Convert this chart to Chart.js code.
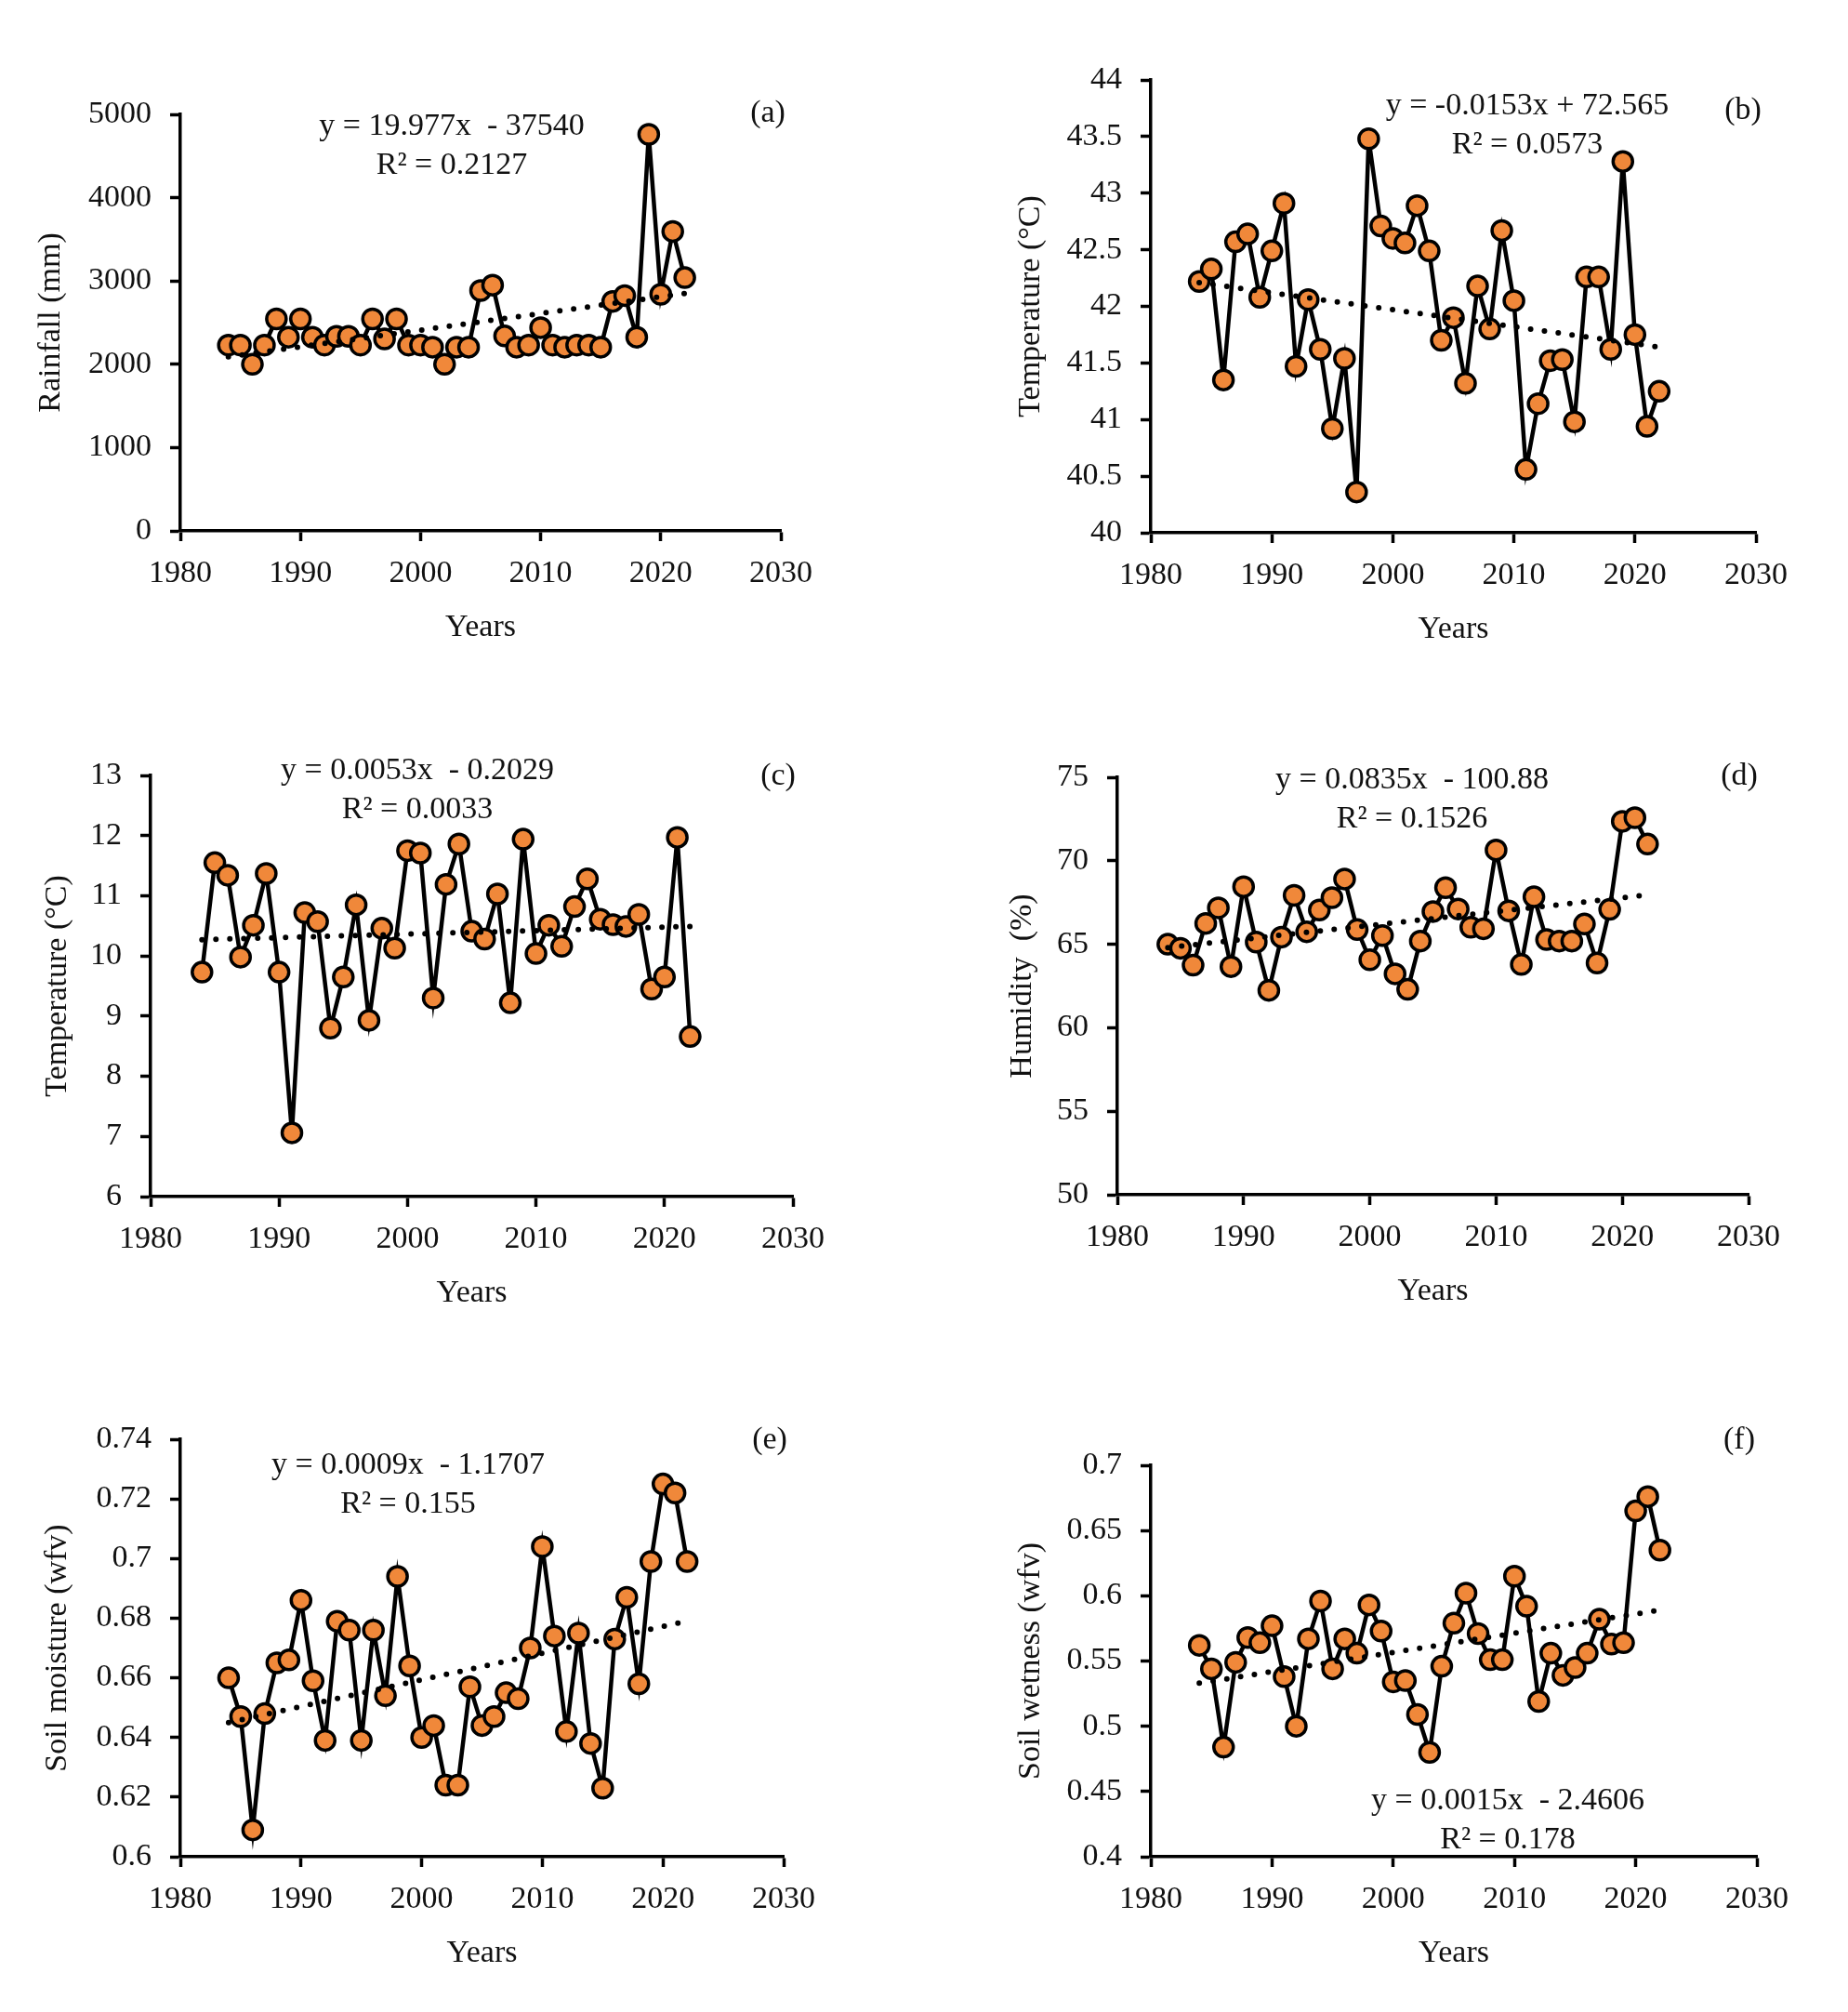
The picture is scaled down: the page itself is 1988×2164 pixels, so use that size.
<!DOCTYPE html>
<html>
<head>
<meta charset="utf-8">
<script src="https://cdn.jsdelivr.net/npm/chart.js@4.4.1/dist/chart.umd.min.js"></script>
<style>
  html, body { margin: 0; padding: 0; background: #ffffff; }
  body { width: 1988px; height: 2164px; position: relative; overflow: hidden; }
  canvas { position: absolute; }
</style>
</head>
<body>
<canvas id="chartA"></canvas>
<canvas id="chartB"></canvas>
<canvas id="chartC"></canvas>
<canvas id="chartD"></canvas>
<canvas id="chartE"></canvas>
<canvas id="chartF"></canvas>
<script>
// ---- data ----
const years = [1984, 1985, 1986, 1987, 1988, 1989, 1990, 1991, 1992, 1993,
               1994, 1995, 1996, 1997, 1998, 1999, 2000, 2001, 2002, 2003,
               2004, 2005, 2006, 2007, 2008, 2009, 2010, 2011, 2012, 2013,
               2014, 2015, 2016, 2017, 2018, 2019, 2020, 2021, 2022];

const rainfall = [2230, 2230, 2000, 2230, 2545, 2325, 2545, 2325, 2230, 2335,
                  2335, 2230, 2545, 2305, 2545, 2230, 2230, 2205, 2000, 2205,
                  2205, 2885, 2950, 2340, 2205, 2230, 2440, 2230, 2205, 2230,
                  2230, 2205, 2755, 2825, 2325, 4760, 2840, 3595, 3040];

const maxTemp = [42.22, 42.33, 41.35, 42.57, 42.64, 42.08, 42.49, 42.91, 41.47, 42.06,
                 41.62, 40.92, 41.54, 40.36, 43.48, 42.71, 42.60, 42.56, 42.89, 42.49,
                 41.70, 41.90, 41.32, 42.18, 41.80, 42.67, 42.05, 40.56, 41.14, 41.52,
                 41.53, 40.98, 42.26, 42.26, 41.62, 43.28, 41.75, 40.94, 41.25];

const minTemp = [9.73, 11.55, 11.34, 9.98, 10.51, 11.37, 9.73, 7.06, 10.72, 10.57,
                 8.80, 9.65, 10.85, 8.93, 10.46, 10.13, 11.75, 11.71, 9.30, 11.19,
                 11.86, 10.41, 10.28, 11.03, 9.22, 11.94, 10.04, 10.51, 10.16, 10.82,
                 11.28, 10.61, 10.52, 10.49, 10.69, 9.45, 9.65, 11.97, 8.66];

const humidity = [65.0, 64.76, 63.75, 66.25, 67.18, 63.66, 68.45, 65.13, 62.24, 65.43,
                  67.93, 65.75, 67.05, 67.79, 68.91, 65.88, 64.07, 65.52, 63.23, 62.30,
                  65.19, 66.96, 68.39, 67.11, 66.02, 65.93, 70.65, 67.0, 63.79, 67.84,
                  65.28, 65.19, 65.19, 66.21, 63.88, 67.09, 72.36, 72.58, 71.0];

const soilMoisture = [0.660, 0.647, 0.609, 0.648, 0.665, 0.666, 0.686, 0.659, 0.639, 0.679,
                      0.676, 0.639, 0.676, 0.654, 0.694, 0.664, 0.640, 0.644, 0.624, 0.624,
                      0.657, 0.644, 0.647, 0.655, 0.653, 0.670, 0.704, 0.674, 0.642, 0.675,
                      0.638, 0.623, 0.673, 0.687, 0.658, 0.699, 0.725, 0.722, 0.699];

const soilWetness = [0.562, 0.544, 0.484, 0.549, 0.568, 0.564, 0.577, 0.538, 0.500, 0.567,
                     0.596, 0.544, 0.567, 0.556, 0.593, 0.573, 0.534, 0.535, 0.509, 0.480,
                     0.546, 0.579, 0.602, 0.571, 0.551, 0.551, 0.615, 0.592, 0.519, 0.556,
                     0.539, 0.545, 0.556, 0.582, 0.563, 0.564, 0.665, 0.676, 0.635];

// linear trend lines, start/end values as drawn
const trendYears = [1984, 2022];
const rainfallTrend = [2090, 2850];
const maxTempTrend = [42.21, 41.64];
const minTempTrend = [10.27, 10.49];
const humidityTrend = [64.8, 67.95];
const soilMoistureTrend = [0.645, 0.679];
const soilWetnessTrend = [0.533, 0.589];

const xTicks = [1980, 1990, 2000, 2010, 2020, 2030];

// ---- look ----
const FONT = "'Liberation Serif', 'Times New Roman', serif";
const FS = 34;
const TXT = '#111111';
const ORANGE = '#F0883A';
const Y_W = 200, X_H = 160, PAD_T = 100, PAD_R = 110;

// plot boxes on the page + where the texts sit
const panels = [
  { id: 'chartA', box: [194, 123, 840, 571], values: rainfall, trend: rainfallTrend,
    yMin: 0, yMax: 5000, yStep: 1000, yTitle: 'Rainfall (mm)', yTitleX: 55,
    eq: ['y = 19.977x  - 37540', 'R\u00b2 = 0.2127'], eqAt: [486, 136], tag: '(a)', tagAt: [826, 122] },
  { id: 'chartB', box: [1238, 86, 1889, 573], values: maxTemp, trend: maxTempTrend,
    yMin: 40, yMax: 44, yStep: 0.5, yTitle: 'Temperature (\u00b0C)', yTitleX: 1109,
    eq: ['y = -0.0153x + 72.565', 'R\u00b2 = 0.0573'], eqAt: [1643, 114], tag: '(b)', tagAt: [1875, 119] },
  { id: 'chartC', box: [162, 834, 853, 1287], values: minTemp, trend: minTempTrend,
    yMin: 6, yMax: 13, yStep: 1, yTitle: 'Temperature (\u00b0C)', yTitleX: 62,
    eq: ['y = 0.0053x  - 0.2029', 'R\u00b2 = 0.0033'], eqAt: [449, 829], tag: '(c)', tagAt: [837, 835] },
  { id: 'chartD', box: [1202, 836, 1881, 1285], values: humidity, trend: humidityTrend,
    yMin: 50, yMax: 75, yStep: 5, yTitle: 'Humidity  (%)', yTitleX: 1100,
    eq: ['y = 0.0835x  - 100.88', 'R\u00b2 = 0.1526'], eqAt: [1519, 839], tag: '(d)', tagAt: [1871, 835] },
  { id: 'chartE', box: [194, 1548, 843, 1997], values: soilMoisture, trend: soilMoistureTrend,
    yMin: 0.6, yMax: 0.74, yStep: 0.02, yTitle: 'Soil moisture (wfv)', yTitleX: 62,
    eq: ['y = 0.0009x  - 1.1707', 'R\u00b2 = 0.155'], eqAt: [439, 1576], tag: '(e)', tagAt: [828, 1549] },
  { id: 'chartF', box: [1238, 1576, 1890, 1997], values: soilWetness, trend: soilWetnessTrend,
    yMin: 0.4, yMax: 0.7, yStep: 0.05, yTitle: 'Soil wetness (wfv)', yTitleX: 1109,
    eq: ['y = 0.0015x  - 2.4606', 'R\u00b2 = 0.178'], eqAt: [1622, 1937], tag: '(f)', tagAt: [1871, 1549] }
];

// equation, R² and panel letter
const panelText = {
  id: 'panelText',
  afterDraw(chart, args, opts) {
    const ctx = chart.ctx;
    ctx.save();
    ctx.fillStyle = TXT;
    ctx.font = FS + 'px ' + FONT;
    ctx.textAlign = 'center';
    ctx.textBaseline = 'middle';
    ctx.fillText(opts.eq[0], opts.eqAt[0] - opts.left, opts.eqAt[1] - opts.top);
    ctx.fillText(opts.eq[1], opts.eqAt[0] - opts.left, opts.eqAt[1] + 42 - opts.top);
    ctx.fillText(opts.tag, opts.tagAt[0] - opts.left, opts.tagAt[1] - opts.top);
    ctx.restore();
  }
};

function makePanel(p) {
  const [l, t, r, b] = p.box;
  const left = l - Y_W, top = t - PAD_T;
  const w = (r - l) + Y_W + PAD_R, h = (b - t) + PAD_T + X_H;
  const canvas = document.getElementById(p.id);
  canvas.width = w;
  canvas.height = h;
  canvas.style.left = left + 'px';
  canvas.style.top = top + 'px';
  canvas.style.width = w + 'px';
  canvas.style.height = h + 'px';

  const axisGrid = {
    drawOnChartArea: false,
    drawTicks: true,
    tickLength: 11,
    tickWidth: 3.5,
    tickColor: '#000'
  };

  new Chart(canvas.getContext('2d'), {
    type: 'line',
    data: {
      datasets: [
        {
          data: trendYears.map((yr, i) => ({ x: yr, y: p.trend[i] })),
          borderColor: '#000',
          borderWidth: 6,
          borderDash: [0, 15],
          borderCapStyle: 'round',
          pointRadius: 0,
          fill: false,
          order: 0
        },
        {
          data: years.map((yr, i) => ({ x: yr, y: p.values[i] })),
          borderColor: '#000',
          borderWidth: 4.5,
          pointRadius: 10.5,
          pointBackgroundColor: ORANGE,
          pointBorderColor: '#000',
          pointBorderWidth: 3.5,
          tension: 0,
          fill: false,
          order: 1
        }
      ]
    },
    options: {
      responsive: false,
      animation: false,
      devicePixelRatio: 1,
      layout: { padding: { top: PAD_T, right: PAD_R, left: 0, bottom: 0 } },
      plugins: {
        legend: { display: false },
        tooltip: { enabled: false },
        panelText: { eq: p.eq, eqAt: p.eqAt, tag: p.tag, tagAt: p.tagAt, left: left, top: top }
      },
      scales: {
        x: {
          type: 'linear',
          min: 1980,
          max: 2030,
          afterBuildTicks: (scale) => { scale.ticks = xTicks.map(v => ({ value: v })); },
          afterFit: (scale) => { scale.height = X_H; },
          border: { display: true, color: '#000', width: 3.5 },
          grid: axisGrid,
          ticks: {
            color: TXT,
            padding: 15,
            maxRotation: 0,
            font: { family: FONT, size: FS },
            callback: (v) => String(v)
          },
          title: {
            display: true,
            text: 'Years',
            color: TXT,
            font: { family: FONT, size: FS },
            padding: { top: 0, bottom: 36 }
          }
        },
        y: {
          min: p.yMin,
          max: p.yMax,
          afterFit: (scale) => { scale.width = Y_W; },
          border: { display: true, color: '#000', width: 3.5 },
          grid: axisGrid,
          ticks: {
            stepSize: p.yStep,
            color: TXT,
            padding: 20,
            font: { family: FONT, size: FS },
            callback: (v) => String(Number(v.toFixed(4)))
          },
          title: {
            display: true,
            text: p.yTitle,
            color: TXT,
            font: { family: FONT, size: FS },
            padding: { top: p.yTitleX - left - FS * 0.6, bottom: 0 }
          }
        }
      }
    },
    plugins: [panelText]
  });
}

panels.forEach(makePanel);
</script>
</body>
</html>
